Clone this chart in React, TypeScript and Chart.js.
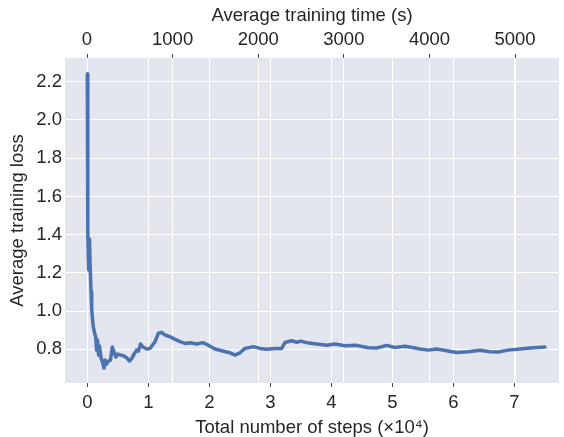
import React, { useEffect, useRef } from "react";
import { Chart, registerables } from "chart.js";

Chart.register(...registerables);

// Total number of steps (×10^4)
const steps: number[] = [
  0, 0.005, 0.011, 0.023, 0.031, 0.036, 0.044, 0.061, 0.072, 0.098,
  0.123, 0.138, 0.151, 0.167, 0.184, 0.2, 0.225, 0.249, 0.274, 0.29,
  0.315, 0.348, 0.38, 0.41, 0.438, 0.47, 0.503, 0.552, 0.602, 0.651,
  0.692, 0.733, 0.766, 0.807, 0.839, 0.872, 0.913, 0.979, 1.028, 1.11,
  1.164, 1.22, 1.274, 1.356, 1.438, 1.52, 1.603, 1.685, 1.793, 1.892,
  1.984, 2.093, 2.203, 2.339, 2.421, 2.503, 2.585, 2.721, 2.831, 2.941,
  3.077, 3.187, 3.241, 3.351, 3.433, 3.498, 3.597, 3.761, 3.925, 4.061,
  4.225, 4.416, 4.607, 4.744, 4.908, 5.044, 5.208, 5.372, 5.454, 5.59,
  5.728, 5.892, 6.056, 6.246, 6.438, 6.602, 6.738, 6.902, 7.093, 7.257,
  7.503,
];

// Average training loss
const loss: number[] = [
  2.24, 1.84, 1.4, 1.215, 1.32, 1.377, 1.257, 1.1, 1.006, 0.917,
  0.88, 0.864, 0.796, 0.849, 0.77, 0.817, 0.754, 0.734, 0.702, 0.744,
  0.723, 0.739, 0.744, 0.812, 0.786, 0.76, 0.775, 0.77, 0.765, 0.754,
  0.739, 0.754, 0.775, 0.796, 0.791, 0.828, 0.812, 0.802, 0.805, 0.84,
  0.884, 0.889, 0.875, 0.866, 0.852, 0.84, 0.831, 0.835, 0.828, 0.835,
  0.822, 0.802, 0.793, 0.782, 0.77, 0.782, 0.805, 0.814, 0.805, 0.8,
  0.805, 0.805, 0.836, 0.845, 0.837, 0.843, 0.835, 0.828, 0.822, 0.828,
  0.819, 0.821, 0.808, 0.807, 0.821, 0.81, 0.816, 0.807, 0.802, 0.796,
  0.802, 0.793, 0.784, 0.787, 0.795, 0.787, 0.786, 0.796, 0.802, 0.807,
  0.812,
];

const yTicks: number[] = [0.8, 1.0, 1.2, 1.4, 1.6, 1.8, 2.0, 2.2];
const stepTicks: number[] = [0, 1, 2, 3, 4, 5, 6, 7];
const timeTicks: number[] = [0, 1000, 2000, 3000, 4000, 5000];

const FONT = "'Liberation Sans', Arial, Helvetica, sans-serif";
const FS = 18.5;
const TEXT = "#262626";
const BG = "#E3E5EF";

const bgPlugin = {
  id: "plotBg",
  beforeDraw(chart: any) {
    const { ctx, chartArea } = chart;
    if (!chartArea) return;
    ctx.save();
    ctx.fillStyle = BG;
    ctx.fillRect(chartArea.left, chartArea.top, chartArea.right - chartArea.left, chartArea.bottom - chartArea.top);
    ctx.restore();
  },
};

export default function App() {
  const ref = useRef<HTMLCanvasElement | null>(null);

  useEffect(() => {
    if (!ref.current) return;
    const data = steps.map((s, i) => ({ x: s, y: loss[i] }));
    const chart = new Chart(ref.current, {
      type: "line",
      data: {
        datasets: [
          {
            data,
            xAxisID: "x",
            yAxisID: "y",
            borderColor: "#4C72B0",
            borderWidth: 3.5,
            pointRadius: 0,
            tension: 0,
            fill: false,
            borderJoinStyle: "round",
            borderCapStyle: "round",
          },
        ],
      },
      options: {
        animation: false,
        responsive: false,
        layout: { padding: { left: 0, right: 5, top: 0, bottom: 0 } },
        plugins: { legend: { display: false }, tooltip: { enabled: false } },
        scales: {
          x: {
            type: "linear",
            position: "bottom",
            min: -0.366,
            max: 7.733,
            afterFit: (s: any) => { s.height = 54; },
            afterBuildTicks: (s: any) => { s.ticks = stepTicks.map((v) => ({ value: v })); },
            ticks: {
              includeBounds: false,
              stepSize: 1,
              padding: 5,
              color: TEXT,
              font: { family: FONT, size: FS },
              callback: (v: any) => String(v),
              maxRotation: 0,
            },
            grid: { color: "#FFFFFF", lineWidth: 1, drawTicks: true, tickLength: 4, tickColor: "#444444", tickWidth: 1 },
            border: { display: false },
            title: {
              display: true,
              text: "Total number of steps (×10⁴)",
              color: TEXT,
              font: { family: FONT, size: FS, lineHeight: 1 },
              padding: { top: 0, bottom: 0 },
            },
          },
          xTop: {
            type: "linear",
            position: "top",
            min: -257,
            max: 5513,
            afterFit: (s: any) => { s.height = 58; },
            afterBuildTicks: (s: any) => { s.ticks = timeTicks.map((v) => ({ value: v })); },
            ticks: {
              includeBounds: false,
              stepSize: 1000,
              padding: 3,
              color: TEXT,
              font: { family: FONT, size: FS },
              callback: (v: any) => String(v),
              maxRotation: 0,
            },
            grid: { color: "#FFFFFF", lineWidth: 1, drawTicks: true, tickLength: 4, tickColor: "#444444", tickWidth: 1 },
            border: { display: false },
            title: {
              display: true,
              text: "Average training time (s)",
              color: TEXT,
              font: { family: FONT, size: FS, lineHeight: 1 },
              padding: { top: 7, bottom: 0 },
            },
          },
          y: {
            type: "linear",
            position: "left",
            min: 0.624,
            max: 2.324,
            afterFit: (s: any) => { s.width = 65; },
            afterBuildTicks: (s: any) => { s.ticks = yTicks.map((v) => ({ value: v })); },
            ticks: {
              includeBounds: false,
              stepSize: 0.2,
              padding: 3,
              color: TEXT,
              font: { family: FONT, size: FS },
              callback: (v: any) => Number(v).toFixed(1),
            },
            grid: { color: "#FFFFFF", lineWidth: 1, drawTicks: false },
            border: { display: false },
            title: {
              display: true,
              text: "Average training loss",
              color: TEXT,
              font: { family: FONT, size: FS, lineHeight: 1 },
              padding: { top: 8.5, bottom: 0 },
            },
          },
        },
      },
      plugins: [bgPlugin],
    } as any);
    return () => chart.destroy();
  }, []);

  return (
    <div style={{ position: "fixed", left: 0, top: 0, width: 564, height: 437 }}>
      <canvas ref={ref} width={564} height={437} style={{ display: "block", width: 564, height: 437 }} />
    </div>
  );
}
